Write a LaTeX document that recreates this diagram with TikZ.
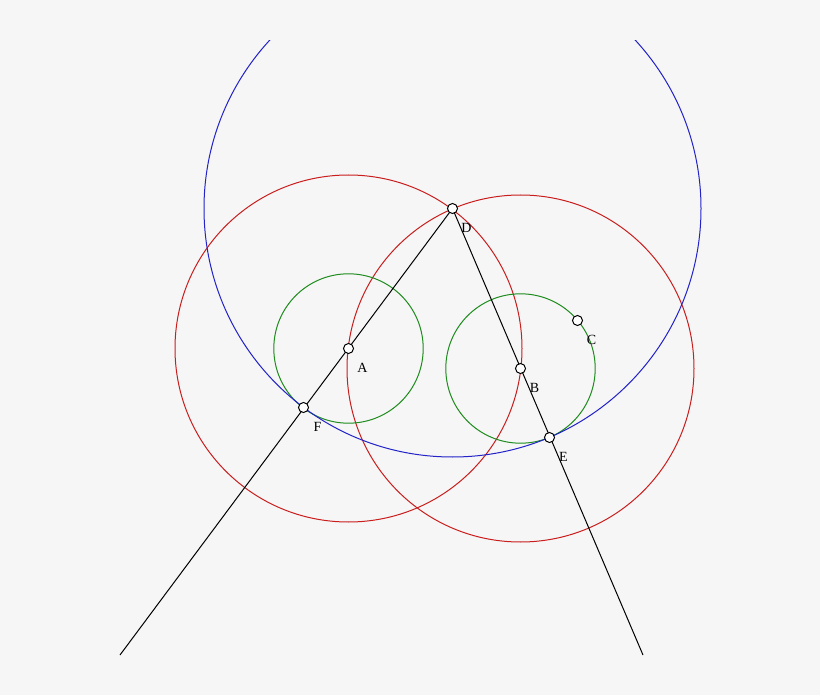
\documentclass[tikz,border=0pt]{standalone}
\usepackage{tikz}
\usepackage{fontspec}
\setmainfont{Liberation Serif}
\definecolor{bgc}{RGB}{246,246,246}
\definecolor{redc}{RGB}{200,30,30}
\definecolor{bluec}{RGB}{35,35,200}
\definecolor{greenc}{RGB}{30,140,30}

\begin{document}
\begin{tikzpicture}[x=1pt, y=-1pt, line width=1pt,
  pt/.style={circle, draw=black, fill=white, line width=1pt, inner sep=0pt, minimum size=10pt},
  lbl/.style={font=\fontsize{14}{16}\selectfont, xshift=14pt, yshift=-19pt}]

  % Frame
  \fill[bgc] (0,0) rectangle (820,695);
  \useasboundingbox (0,0) rectangle (820,695);

  % Define points
  \coordinate (a) at (348.5,348.5);
  \coordinate (b) at (520.5,368.5);
  \coordinate (c) at (577.5,320.5);
  \coordinate (d) at (452.5,208.5);
  \coordinate (e) at (549.5,437.5);
  \coordinate (f) at (303.5,407.5);
  \coordinate (endl) at (120,655);
  \coordinate (endr) at (643,655);

  % Circles
  \draw[redc] (a) circle (173.5pt);
  \draw[redc] (b) circle (173.5pt);
  \draw[greenc] (a) circle (74.7pt);
  \draw[greenc] (b) circle (74.7pt);
  \begin{scope}
    \clip (0,41) rectangle (820,695);
    \draw[bluec] (d) circle (248.5pt);
  \end{scope}

  % Lines
  \draw (d) -- (endl);
  \draw (d) -- (endr);

  % Nodes
  \node[pt, label={[lbl]center:A}] (A) at (a) {};
  \node[pt, label={[lbl]center:B}] (B) at (b) {};
  \node[pt, label={[lbl]center:C}] (C) at (c) {};
  \node[pt, label={[lbl]center:D}] (D) at (d) {};
  \node[pt, label={[lbl]center:E}] (E) at (e) {};
  \node[pt, label={[lbl]center:F}] (F) at (f) {};

\end{tikzpicture}
\end{document}
